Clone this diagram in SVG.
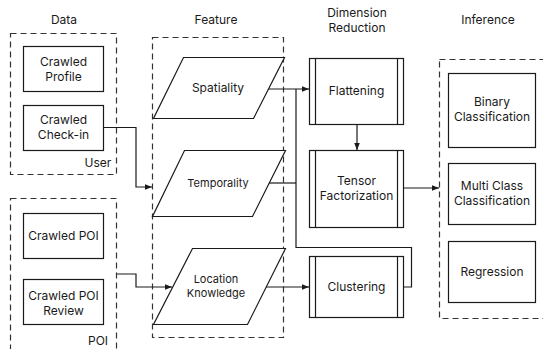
<svg xmlns="http://www.w3.org/2000/svg" width="543" height="349" viewBox="0 0 543 349">
<style>
text{font-family:Inter,"Open Sans","Noto Sans",sans-serif;font-size:12px;fill:#1a1a1a;text-anchor:middle}
.sm{font-size:11px}
.box{fill:#fff;stroke:#1a1a1a;stroke-width:1.2}
.grp{fill:none;stroke:#333;stroke-width:1.2;stroke-dasharray:6,4}
.bar{stroke:#1a1a1a;stroke-width:1.2}
.con{fill:none;stroke:#1a1a1a;stroke-width:1.2}
</style>
<defs>
<marker id="ah" viewBox="0 0 10 10" refX="10" refY="5" markerWidth="7" markerHeight="7" markerUnits="userSpaceOnUse" orient="auto">
<path d="M0,1 L10,5 L0,9 z" fill="#1a1a1a"/>
</marker>
</defs>
<rect width="543" height="349" fill="#fff"/>

<g id="headers">
<text x="64" y="24">Data</text>
<text x="216" y="24">Feature</text>
<text x="357" y="17">Dimension</text>
<text x="357" y="32">Reduction</text>
<text x="488" y="24">Inference</text>
</g>

<g id="group-user">
<rect class="grp" x="10.5" y="33.5" width="106" height="141"/>
<text x="98" y="167">User</text>
</g>
<g id="group-poi">
<rect class="grp" x="10.5" y="198.5" width="106" height="170"/>
<text x="98" y="345">POI</text>
</g>
<g id="group-feature">
<rect class="grp" x="152.5" y="37.5" width="131" height="300"/>
</g>
<g id="group-inference">
<rect class="grp" x="439.5" y="59.5" width="120" height="259"/>
</g>

<g id="connectors">
<polyline class="con" points="103,127.5 136,127.5 136,187 152,187" marker-end="url(#ah)"/>
<polyline class="con" points="117,274 136,274 136,287 172,287" marker-end="url(#ah)"/>
<line class="con" x1="268" y1="89" x2="309" y2="89" marker-end="url(#ah)"/>
<polyline class="con" points="296,89 296,247.5 411.5,247.5 411.5,287 403,287"/>
<line class="con" x1="269" y1="183" x2="296" y2="183"/>
<line class="con" x1="265" y1="287" x2="309" y2="287" marker-end="url(#ah)"/>
<line class="con" x1="357" y1="124" x2="357" y2="150" marker-end="url(#ah)"/>
<line class="con" x1="403" y1="188" x2="439" y2="188" marker-end="url(#ah)"/>
</g>

<g id="crawled-profile">
<rect class="box" x="23.5" y="46.5" width="80" height="45"/>
<text x="63.5" y="66">Crawled</text>
<text x="63.5" y="81">Profile</text>
</g>
<g id="crawled-checkin">
<rect class="box" x="23.5" y="105.5" width="80" height="45"/>
<text x="63.5" y="124">Crawled</text>
<text x="63.5" y="139">Check-in</text>
</g>
<g id="crawled-poi">
<rect class="box" x="23.5" y="213.5" width="80" height="45"/>
<text x="63.5" y="240">Crawled POI</text>
</g>
<g id="crawled-poi-review">
<rect class="box" x="23.5" y="279.5" width="80" height="45"/>
<text x="63.5" y="300">Crawled POI</text>
<text x="63.5" y="315">Review</text>
</g>

<g id="spatiality">
<polygon class="box" points="183.5,57.5 284.5,57.5 253.5,118.5 153.5,118.5"/>
<text x="218" y="92">Spatiality</text>
</g>
<g id="temporality">
<polygon class="box" points="184.5,150.5 285.5,150.5 252.5,216.5 152.5,216.5"/>
<text class="sm" x="218" y="187">Temporality</text>
</g>
<g id="location-knowledge">
<polygon class="box" points="192.5,248.5 285.5,248.5 247.5,324.5 153.5,324.5"/>
<text class="sm" x="216" y="283">Location</text>
<text class="sm" x="216" y="297">Knowledge</text>
</g>

<g id="flattening">
<rect class="box" x="309.5" y="58.5" width="94" height="66"/>
<line class="bar" x1="315.5" y1="58.5" x2="315.5" y2="124.5"/>
<line class="bar" x1="397.5" y1="58.5" x2="397.5" y2="124.5"/>
<text x="356.5" y="95">Flattening</text>
</g>
<g id="tensor-factorization">
<rect class="box" x="309.5" y="150.5" width="94" height="77"/>
<line class="bar" x1="315.5" y1="150.5" x2="315.5" y2="227.5"/>
<line class="bar" x1="397.5" y1="150.5" x2="397.5" y2="227.5"/>
<text x="356.5" y="185">Tensor</text>
<text x="356.5" y="200">Factorization</text>
</g>
<g id="clustering">
<rect class="box" x="309.5" y="256.5" width="94" height="61"/>
<line class="bar" x1="315.5" y1="256.5" x2="315.5" y2="317.5"/>
<line class="bar" x1="397.5" y1="256.5" x2="397.5" y2="317.5"/>
<text x="356.5" y="291">Clustering</text>
</g>

<g id="binary-classification">
<rect class="box" x="448.5" y="73.5" width="87" height="74"/>
<text x="492" y="106">Binary</text>
<text x="492" y="121">Classification</text>
</g>
<g id="multi-class-classification">
<rect class="box" x="448.5" y="163.5" width="87" height="61"/>
<text x="492" y="190">Multi Class</text>
<text x="492" y="205">Classification</text>
</g>
<g id="regression">
<rect class="box" x="448.5" y="241.5" width="87" height="61"/>
<text x="492" y="276">Regression</text>
</g>
</svg>
